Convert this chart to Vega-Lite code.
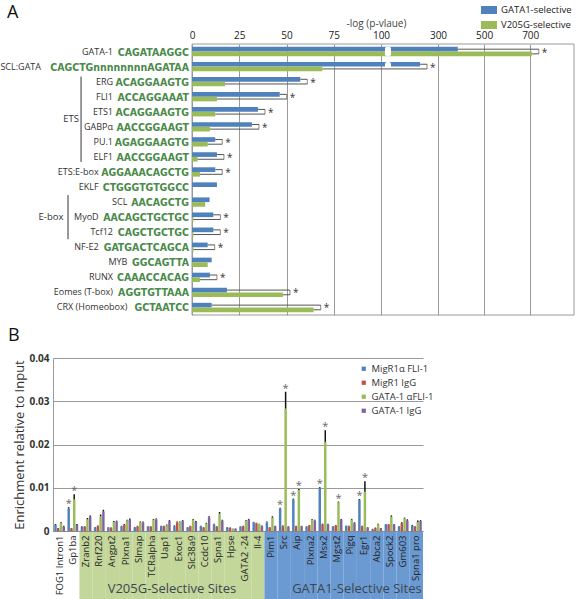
{
"$schema": "https://vega.github.io/schema/vega-lite/v6.json",
"padding": {"left": 0, "top": 2, "right": 0, "bottom": 0},
"config": {"font": "Open Sans", "view": {"stroke": null}, "title": {"fontWeight": "normal", "fontSize": 18, "color": "#111"}},
"spacing": 11,
"resolve": {"scale": {"color": "independent", "fill": "independent", "x": "independent", "y": "independent"}},
"datasets": {
 "aBars": [
  {"name":"GATA-1","sel":"GATA1-selective","value":386},{"name":"GATA-1","sel":"V205G-selective","value":707},
  {"name":"SCL:GATA","sel":"GATA1-selective","value":237},{"name":"SCL:GATA","sel":"V205G-selective","value":69},
  {"name":"ERG","sel":"GATA1-selective","value":57.3},{"name":"ERG","sel":"V205G-selective","value":17.5},
  {"name":"FLI1","sel":"GATA1-selective","value":46.4},{"name":"FLI1","sel":"V205G-selective","value":13.2},
  {"name":"ETS1","sel":"GATA1-selective","value":34.9},{"name":"ETS1","sel":"V205G-selective","value":12.3},
  {"name":"GABPα","sel":"GATA1-selective","value":31.7},{"name":"GABPα","sel":"V205G-selective","value":9.5},
  {"name":"PU.1","sel":"GATA1-selective","value":12.3},{"name":"PU.1","sel":"V205G-selective","value":8.3},
  {"name":"ELF1","sel":"GATA1-selective","value":13.2},{"name":"ELF1","sel":"V205G-selective","value":3},
  {"name":"ETS:E-box","sel":"GATA1-selective","value":12.3},{"name":"ETS:E-box","sel":"V205G-selective","value":4.2},
  {"name":"EKLF","sel":"GATA1-selective","value":13.2},{"name":"EKLF","sel":"V205G-selective","value":0},
  {"name":"SCL","sel":"GATA1-selective","value":9.3},{"name":"SCL","sel":"V205G-selective","value":7},
  {"name":"MyoD","sel":"GATA1-selective","value":11.3},{"name":"MyoD","sel":"V205G-selective","value":0.8},
  {"name":"Tcf12","sel":"GATA1-selective","value":11.3},{"name":"Tcf12","sel":"V205G-selective","value":0.8},
  {"name":"NF-E2","sel":"GATA1-selective","value":8.3},{"name":"NF-E2","sel":"V205G-selective","value":0.8},
  {"name":"MYB","sel":"GATA1-selective","value":10.4},{"name":"MYB","sel":"V205G-selective","value":8.3},
  {"name":"RUNX","sel":"GATA1-selective","value":9.5},{"name":"RUNX","sel":"V205G-selective","value":4.2},
  {"name":"Eomes (T-box)","sel":"GATA1-selective","value":18.5},{"name":"Eomes (T-box)","sel":"V205G-selective","value":48.1},
  {"name":"CRX (Homeobox)","sel":"GATA1-selective","value":10.4},{"name":"CRX (Homeobox)","sel":"V205G-selective","value":64.4}
 ],
 "motifs": [
  {"name":"GATA-1","motif":"CAGATAAGGC"},
  {"name":"SCL:GATA","motif":"CAGCTGnnnnnnnnAGATAA"},
  {"name":"ERG","motif":"ACAGGAAGTG"},
  {"name":"FLI1","motif":"ACCAGGAAAT"},
  {"name":"ETS1","motif":"ACAGGAAGTG"},
  {"name":"GABPα","motif":"AACCGGAAGT"},
  {"name":"PU.1","motif":"AGAGGAAGTG"},
  {"name":"ELF1","motif":"AACCGGAAGT"},
  {"name":"ETS:E-box","motif":"AGGAAACAGCTG"},
  {"name":"EKLF","motif":"CTGGGTGTGGCC"},
  {"name":"SCL","motif":"AACAGCTG"},
  {"name":"MyoD","motif":"AACAGCTGCTGC"},
  {"name":"Tcf12","motif":"CAGCTGCTGC"},
  {"name":"NF-E2","motif":"GATGACTCAGCA"},
  {"name":"MYB","motif":"GGCAGTTA"},
  {"name":"RUNX","motif":"CAAACCACAG"},
  {"name":"Eomes (T-box)","motif":"AGGTGTTAAA"},
  {"name":"CRX (Homeobox)","motif":"GCTAATCC"}
 ],
 "groups": [
  {"group":"ETS","first":"ERG","last":"ELF1","mid":"ETS1"},
  {"group":"E-box","first":"SCL","last":"Tcf12","mid":"MyoD"}
 ],
 "bBg": [
  {"gene":"Zranb2","grp":"V205G"},{"gene":"Rnf220","grp":"V205G"},{"gene":"Angpt2","grp":"V205G"},{"gene":"Plxna1","grp":"V205G"},
  {"gene":"Slmap","grp":"V205G"},{"gene":"TCRalpha","grp":"V205G"},{"gene":"Uap1","grp":"V205G"},{"gene":"Exoc1","grp":"V205G"},
  {"gene":"Slc38a9","grp":"V205G"},{"gene":"Ccdc10","grp":"V205G"},{"gene":"Spna1","grp":"V205G"},{"gene":"Hpse","grp":"V205G"},
  {"gene":"GATA2 -24","grp":"V205G"},{"gene":"Il-4","grp":"V205G"},
  {"gene":"Pim1","grp":"GATA1"},{"gene":"Src","grp":"GATA1"},{"gene":"Aip","grp":"GATA1"},{"gene":"Plxna2","grp":"GATA1"},
  {"gene":"Msx2","grp":"GATA1"},{"gene":"Mgst2","grp":"GATA1"},{"gene":"Pigq","grp":"GATA1"},{"gene":"Egr1","grp":"GATA1"},
  {"gene":"Abca2","grp":"GATA1"},{"gene":"Spock2","grp":"GATA1"},{"gene":"Gm603","grp":"GATA1"},{"gene":"Spna1 pro","grp":"GATA1"}
 ],
 "bLabels": [
  {"label":"V205G-Selective Sites","at":"Uap1"},
  {"label":"GATA1-Selective Sites","at":"Pigq"}
 ],
 "bData": [
  {"gene":"FOG1 Intron1","series":"MigR1α FLI-1","value":0.0014,"hi":0.0016},{"gene":"FOG1 Intron1","series":"MigR1 IgG","value":0.0006,"hi":0.0007},{"gene":"FOG1 Intron1","series":"GATA-1 αFLI-1","value":0.0019,"hi":0.0021},{"gene":"FOG1 Intron1","series":"GATA-1 IgG","value":0.0010,"hi":0.0012},
  {"gene":"Gp1ba","series":"MigR1α FLI-1","value":0.0052,"hi":0.0055,"sig":true},{"gene":"Gp1ba","series":"MigR1 IgG","value":0.0006,"hi":0.0007},{"gene":"Gp1ba","series":"GATA-1 αFLI-1","value":0.0073,"hi":0.0085,"sig":true},{"gene":"Gp1ba","series":"GATA-1 IgG","value":0.0014,"hi":0.0016},
  {"gene":"Zranb2","series":"MigR1α FLI-1","value":0.0010,"hi":0.0011},{"gene":"Zranb2","series":"MigR1 IgG","value":0.0010,"hi":0.0011},{"gene":"Zranb2","series":"GATA-1 αFLI-1","value":0.0027,"hi":0.0030},{"gene":"Zranb2","series":"GATA-1 IgG","value":0.0033,"hi":0.0036},
  {"gene":"Rnf220","series":"MigR1α FLI-1","value":0.0008,"hi":0.0009},{"gene":"Rnf220","series":"MigR1 IgG","value":0.0011,"hi":0.0013},{"gene":"Rnf220","series":"GATA-1 αFLI-1","value":0.0034,"hi":0.0038},{"gene":"Rnf220","series":"GATA-1 IgG","value":0.0045,"hi":0.0049},
  {"gene":"Angpt2","series":"MigR1α FLI-1","value":0.0008,"hi":0.0009},{"gene":"Angpt2","series":"MigR1 IgG","value":0.0007,"hi":0.0008},{"gene":"Angpt2","series":"GATA-1 αFLI-1","value":0.0021,"hi":0.0023},{"gene":"Angpt2","series":"GATA-1 IgG","value":0.0022,"hi":0.0024},
  {"gene":"Plxna1","series":"MigR1α FLI-1","value":0.0011,"hi":0.0012},{"gene":"Plxna1","series":"MigR1 IgG","value":0.0014,"hi":0.0016},{"gene":"Plxna1","series":"GATA-1 αFLI-1","value":0.0024,"hi":0.0026},{"gene":"Plxna1","series":"GATA-1 IgG","value":0.0026,"hi":0.0029},
  {"gene":"Slmap","series":"MigR1α FLI-1","value":0.0008,"hi":0.0009},{"gene":"Slmap","series":"MigR1 IgG","value":0.0011,"hi":0.0012},{"gene":"Slmap","series":"GATA-1 αFLI-1","value":0.0020,"hi":0.0022},{"gene":"Slmap","series":"GATA-1 IgG","value":0.0020,"hi":0.0022},
  {"gene":"TCRalpha","series":"MigR1α FLI-1","value":0.0010,"hi":0.0011},{"gene":"TCRalpha","series":"MigR1 IgG","value":0.0010,"hi":0.0011},{"gene":"TCRalpha","series":"GATA-1 αFLI-1","value":0.0026,"hi":0.0028},{"gene":"TCRalpha","series":"GATA-1 IgG","value":0.0027,"hi":0.0029},
  {"gene":"Uap1","series":"MigR1α FLI-1","value":0.0011,"hi":0.0012},{"gene":"Uap1","series":"MigR1 IgG","value":0.0011,"hi":0.0012},{"gene":"Uap1","series":"GATA-1 αFLI-1","value":0.0013,"hi":0.0015},{"gene":"Uap1","series":"GATA-1 IgG","value":0.0023,"hi":0.0025},
  {"gene":"Exoc1","series":"MigR1α FLI-1","value":0.0011,"hi":0.0013},{"gene":"Exoc1","series":"MigR1 IgG","value":0.0020,"hi":0.0022},{"gene":"Exoc1","series":"GATA-1 αFLI-1","value":0.0020,"hi":0.0022},{"gene":"Exoc1","series":"GATA-1 IgG","value":0.0023,"hi":0.0025},
  {"gene":"Slc38a9","series":"MigR1α FLI-1","value":0.0008,"hi":0.0009},{"gene":"Slc38a9","series":"MigR1 IgG","value":0.0011,"hi":0.0012},{"gene":"Slc38a9","series":"GATA-1 αFLI-1","value":0.0026,"hi":0.0028},{"gene":"Slc38a9","series":"GATA-1 IgG","value":0.0021,"hi":0.0023},
  {"gene":"Ccdc10","series":"MigR1α FLI-1","value":0.0011,"hi":0.0012},{"gene":"Ccdc10","series":"MigR1 IgG","value":0.0008,"hi":0.0009},{"gene":"Ccdc10","series":"GATA-1 αFLI-1","value":0.0017,"hi":0.0019},{"gene":"Ccdc10","series":"GATA-1 IgG","value":0.0031,"hi":0.0034},
  {"gene":"Spna1","series":"MigR1α FLI-1","value":0.0015,"hi":0.0017},{"gene":"Spna1","series":"MigR1 IgG","value":0.0010,"hi":0.0011},{"gene":"Spna1","series":"GATA-1 αFLI-1","value":0.0040,"hi":0.0044},{"gene":"Spna1","series":"GATA-1 IgG","value":0.0024,"hi":0.0026},
  {"gene":"Hpse","series":"MigR1α FLI-1","value":0.0008,"hi":0.0009},{"gene":"Hpse","series":"MigR1 IgG","value":0.0007,"hi":0.0008},{"gene":"Hpse","series":"GATA-1 αFLI-1","value":0.0005,"hi":0.0006},{"gene":"Hpse","series":"GATA-1 IgG","value":0.0005,"hi":0.0006},
  {"gene":"GATA2 -24","series":"MigR1α FLI-1","value":0.0010,"hi":0.0011},{"gene":"GATA2 -24","series":"MigR1 IgG","value":0.0011,"hi":0.0012},{"gene":"GATA2 -24","series":"GATA-1 αFLI-1","value":0.0023,"hi":0.0025},{"gene":"GATA2 -24","series":"GATA-1 IgG","value":0.0026,"hi":0.0028},
  {"gene":"Il-4","series":"MigR1α FLI-1","value":0.0020,"hi":0.0021},{"gene":"Il-4","series":"MigR1 IgG","value":0.0018,"hi":0.0019},{"gene":"Il-4","series":"GATA-1 αFLI-1","value":0.0016,"hi":0.0017},{"gene":"Il-4","series":"GATA-1 IgG","value":0.0011,"hi":0.0013},
  {"gene":"Pim1","series":"MigR1α FLI-1","value":0.0020,"hi":0.0022},{"gene":"Pim1","series":"MigR1 IgG","value":0.0008,"hi":0.0009},{"gene":"Pim1","series":"GATA-1 αFLI-1","value":0.0031,"hi":0.0034},{"gene":"Pim1","series":"GATA-1 IgG","value":0.0011,"hi":0.0012},
  {"gene":"Src","series":"MigR1α FLI-1","value":0.0052,"hi":0.0054,"sig":true},{"gene":"Src","series":"MigR1 IgG","value":0.0011,"hi":0.0013},{"gene":"Src","series":"GATA-1 αFLI-1","value":0.0283,"hi":0.0322,"sig":true},{"gene":"Src","series":"GATA-1 IgG","value":0.0010,"hi":0.0011},
  {"gene":"Aip","series":"MigR1α FLI-1","value":0.0073,"hi":0.0075,"sig":true},{"gene":"Aip","series":"MigR1 IgG","value":0.0011,"hi":0.0012},{"gene":"Aip","series":"GATA-1 αFLI-1","value":0.0095,"hi":0.0097,"sig":true},{"gene":"Aip","series":"GATA-1 IgG","value":0.0011,"hi":0.0012},
  {"gene":"Plxna2","series":"MigR1α FLI-1","value":0.0010,"hi":0.0011},{"gene":"Plxna2","series":"MigR1 IgG","value":0.0013,"hi":0.0014},{"gene":"Plxna2","series":"GATA-1 αFLI-1","value":0.0026,"hi":0.0028},{"gene":"Plxna2","series":"GATA-1 IgG","value":0.0024,"hi":0.0026},
  {"gene":"Msx2","series":"MigR1α FLI-1","value":0.0100,"hi":0.0102,"sig":true},{"gene":"Msx2","series":"MigR1 IgG","value":0.0015,"hi":0.0017},{"gene":"Msx2","series":"GATA-1 αFLI-1","value":0.0206,"hi":0.0233,"sig":true},{"gene":"Msx2","series":"GATA-1 IgG","value":0.0015,"hi":0.0017},
  {"gene":"Mgst2","series":"MigR1α FLI-1","value":0.0010,"hi":0.0011},{"gene":"Mgst2","series":"MigR1 IgG","value":0.0013,"hi":0.0014},{"gene":"Mgst2","series":"GATA-1 αFLI-1","value":0.0066,"hi":0.0068,"sig":true},{"gene":"Mgst2","series":"GATA-1 IgG","value":0.0026,"hi":0.0028},
  {"gene":"Pigq","series":"MigR1α FLI-1","value":0.0012,"hi":0.0013},{"gene":"Pigq","series":"MigR1 IgG","value":0.0011,"hi":0.0012},{"gene":"Pigq","series":"GATA-1 αFLI-1","value":0.0026,"hi":0.0028},{"gene":"Pigq","series":"GATA-1 IgG","value":0.0018,"hi":0.0020},
  {"gene":"Egr1","series":"MigR1α FLI-1","value":0.0072,"hi":0.0074,"sig":true},{"gene":"Egr1","series":"MigR1 IgG","value":0.0011,"hi":0.0012},{"gene":"Egr1","series":"GATA-1 αFLI-1","value":0.0091,"hi":0.0115,"sig":true},{"gene":"Egr1","series":"GATA-1 IgG","value":0.0008,"hi":0.0009},
  {"gene":"Abca2","series":"MigR1α FLI-1","value":0.0004,"hi":0.0005},{"gene":"Abca2","series":"MigR1 IgG","value":0.0007,"hi":0.0008},{"gene":"Abca2","series":"GATA-1 αFLI-1","value":0.0015,"hi":0.0017},{"gene":"Abca2","series":"GATA-1 IgG","value":0.0006,"hi":0.0007},
  {"gene":"Spock2","series":"MigR1α FLI-1","value":0.0015,"hi":0.0016},{"gene":"Spock2","series":"MigR1 IgG","value":0.0015,"hi":0.0016},{"gene":"Spock2","series":"GATA-1 αFLI-1","value":0.0033,"hi":0.0036},{"gene":"Spock2","series":"GATA-1 IgG","value":0.0015,"hi":0.0016},
  {"gene":"Gm603","series":"MigR1α FLI-1","value":0.0010,"hi":0.0011},{"gene":"Gm603","series":"MigR1 IgG","value":0.0018,"hi":0.0020},{"gene":"Gm603","series":"GATA-1 αFLI-1","value":0.0029,"hi":0.0031},{"gene":"Gm603","series":"GATA-1 IgG","value":0.0024,"hi":0.0027},
  {"gene":"Spna1 pro","series":"MigR1α FLI-1","value":0.0012,"hi":0.0014},{"gene":"Spna1 pro","series":"MigR1 IgG","value":0.0010,"hi":0.0011},{"gene":"Spna1 pro","series":"GATA-1 αFLI-1","value":0.0021,"hi":0.0024},{"gene":"Spna1 pro","series":"GATA-1 IgG","value":0.0023,"hi":0.0025}
 ]
},
"vconcat": [
 {
  "width": 521, "height": 271,
  "title": {"text": "A", "anchor": "start", "frame": "group", "dx": -46, "offset": -20},
  "layer": [
   {
    "data": {"values": [{}]},
    "mark": {"type": "rect", "filled": false, "stroke": "#9a9a9a", "strokeWidth": 1},
    "encoding": {"x": {"datum": 0}, "x2": {"datum": 890}}
   },
   {
    "data": {"name": "aBars"},
    "mark": {"type": "bar"},
    "encoding": {
     "y": {"field": "name", "type": "nominal", "scale": {"domain": ["GATA-1","SCL:GATA","ERG","FLI1","ETS1","GABPα","PU.1","ELF1","ETS:E-box","EKLF","SCL","MyoD","Tcf12","NF-E2","MYB","RUNX","Eomes (T-box)","CRX (Homeobox)"], "paddingInner": 0.38, "paddingOuter": 0.19}, "axis": null},
     "yOffset": {"field": "sel", "type": "nominal", "scale": {"domain": ["GATA1-selective","V205G-selective"], "paddingInner": 0}},
     "x": {"field": "value", "type": "quantitative",
       "scale": {"domain": [0,100,300,890], "range": [139,328,385,521], "nice": false, "zero": false},
       "axis": {"orient": "top", "values": [0,25,50,75,100,300,500,700], "grid": true, "gridColor": "#9a9a9a", "domain": false, "ticks": false, "labelFontSize": 10, "labelColor": "#222", "labelPadding": 4, "labelOverlap": false, "labelFlush": false, "title": "-log (p-vlaue)", "titleFontSize": 10, "titleFontWeight": "normal", "titleColor": "#444", "titleX": 323, "titleY": -21, "titleAlign": "center", "titleBaseline": "middle"}},
     "color": {"field": "sel", "type": "nominal",
       "scale": {"domain": ["GATA1-selective","V205G-selective"], "range": ["#4f81bd","#9bbb59"]},
       "legend": {"orient": "none", "legendX": 428, "legendY": -42, "title": null, "symbolType": "M-1,-0.5H1V0.5H-1Z", "symbolSize": 256, "symbolStrokeWidth": 0, "labelFontSize": 9.5, "labelColor": "#222", "rowPadding": 2, "labelOffset": 4, "labelLimit": 0}}
    }
   },
   {
    "data": {"name": "aBars"},
    "transform": [{"filter": {"field": "name", "oneOf": ["GATA-1","SCL:GATA"]}}, {"filter": {"field": "sel", "equal": "GATA1-selective"}}],
    "mark": {"type": "bar", "color": "white", "cornerRadius": 2},
    "encoding": {"y": {"field": "name", "type": "nominal"}, "x": {"datum": 114}, "x2": {"datum": 135}}
   },
   {
    "data": {"name": "aBars"},
    "transform": [
     {"joinaggregate": [{"op": "max", "field": "value", "as": "top"}], "groupby": ["name"]},
     {"filter": {"not": {"field": "name", "oneOf": ["EKLF","SCL","MYB"]}}}
    ],
    "mark": {"type": "rule", "color": "#555", "strokeWidth": 1, "x2Offset": 7},
    "encoding": {"y": {"field": "name", "type": "nominal"}, "yOffset": {"field": "sel", "type": "nominal"}, "x": {"field": "value", "type": "quantitative"}, "x2": {"field": "top"}}
   },
   {
    "data": {"name": "aBars"},
    "transform": [
     {"aggregate": [{"op": "max", "field": "value", "as": "top"}], "groupby": ["name"]},
     {"filter": {"not": {"field": "name", "oneOf": ["EKLF","SCL","MYB"]}}}
    ],
    "mark": {"type": "tick", "orient": "vertical", "color": "#555", "thickness": 1, "size": 5, "xOffset": 7},
    "encoding": {"y": {"field": "name", "type": "nominal"}, "x": {"field": "top", "type": "quantitative"}}
   },
   {
    "data": {"name": "aBars"},
    "transform": [
     {"aggregate": [{"op": "max", "field": "value", "as": "top"}], "groupby": ["name"]},
     {"filter": {"not": {"field": "name", "oneOf": ["EKLF","SCL","MYB"]}}}
    ],
    "mark": {"type": "text", "text": "*", "fontSize": 10, "color": "#333", "align": "left", "baseline": "middle", "dx": 10, "dy": 1},
    "encoding": {"y": {"field": "name", "type": "nominal"}, "x": {"field": "top", "type": "quantitative"}}
   },
   {
    "data": {"name": "motifs"},
    "mark": {"type": "text", "align": "right", "baseline": "middle", "dx": -3, "dy": 1, "font": "DejaVu Sans Condensed", "fontWeight": "bold", "fontSize": 10.5, "color": "#4a8a4a"},
    "encoding": {"y": {"field": "name", "type": "nominal"}, "x": {"datum": 0}, "text": {"field": "motif"}}
   },
   {
    "data": {"name": "motifs"},
    "mark": {"type": "text", "align": "right", "baseline": "middle", "dx": {"expr": "-7 - length(datum.motif) * 7.2"}, "fontSize": 9, "color": "#333"},
    "encoding": {"y": {"field": "name", "type": "nominal"}, "x": {"datum": 0}, "text": {"field": "name"}}
   },
   {
    "data": {"name": "groups"},
    "transform": [{"filter": {"field": "group", "equal": "ETS"}}],
    "mark": {"type": "text", "align": "center", "baseline": "middle", "dy": 7, "fontSize": 9.5, "color": "#333"},
    "encoding": {"y": {"field": "mid", "type": "nominal"}, "x": {"datum": -64}, "text": {"field": "group"}}
   },
   {
    "data": {"name": "groups"},
    "transform": [{"filter": {"field": "group", "equal": "E-box"}}],
    "mark": {"type": "text", "align": "center", "baseline": "middle", "fontSize": 9.5, "color": "#333"},
    "encoding": {"y": {"field": "mid", "type": "nominal"}, "x": {"datum": -74.6}, "text": {"field": "group"}}
   },
   {
    "data": {"name": "groups"},
    "transform": [{"filter": {"field": "group", "equal": "ETS"}}],
    "mark": {"type": "rule", "color": "#333", "strokeWidth": 1, "yOffset": -5, "y2Offset": 5},
    "encoding": {"y": {"field": "first", "type": "nominal"}, "y2": {"field": "last"}, "x": {"datum": -58.7}}
   },
   {
    "data": {"name": "groups"},
    "transform": [{"filter": {"field": "group", "equal": "E-box"}}],
    "mark": {"type": "rule", "color": "#333", "strokeWidth": 1, "yOffset": -7, "y2Offset": 7},
    "encoding": {"y": {"field": "first", "type": "nominal"}, "y2": {"field": "last"}, "x": {"datum": -65.6}}
   }
  ]
 },
 {
  "width": 370, "height": 173,
  "title": {"text": "B", "anchor": "start", "frame": "group", "dx": -45, "offset": 8},
  "layer": [
   {
    "data": {"name": "bBg"},
    "mark": {"type": "rect"},
    "encoding": {
     "x": {"field": "gene", "type": "nominal"},
     "y": {"datum": 0},
     "y2": {"datum": -0.0165},
     "fill": {"field": "grp", "type": "nominal", "scale": {"domain": ["V205G","GATA1"], "range": ["#c4d79b","#6b9ad2"]}, "legend": null}
    }
   },
   {
    "data": {"name": "bLabels"},
    "mark": {"type": "text", "fontSize": 13, "color": "#3c4650", "align": "center", "baseline": "middle"},
    "encoding": {"x": {"field": "at", "type": "nominal", "bandPosition": 1}, "y": {"datum": -0.0135}, "text": {"field": "label"}}
   },
   {
    "data": {"name": "bData"},
    "mark": {"type": "bar"},
    "encoding": {
     "x": {"field": "gene", "type": "nominal",
       "scale": {"domain": ["FOG1 Intron1","Gp1ba","Zranb2","Rnf220","Angpt2","Plxna1","Slmap","TCRalpha","Uap1","Exoc1","Slc38a9","Ccdc10","Spna1","Hpse","GATA2 -24","Il-4","Pim1","Src","Aip","Plxna2","Msx2","Mgst2","Pigq","Egr1","Abca2","Spock2","Gm603","Spna1 pro"], "paddingInner": 0, "paddingOuter": 0},
       "axis": {"title": null, "labelAngle": 270, "labelFontSize": 9.5, "labelColor": "#222", "ticks": false, "domainColor": "#888", "labelPadding": 4, "zindex": 1, "labelOverlap": false, "labelLimit": 0}},
     "xOffset": {"field": "series", "type": "nominal", "scale": {"domain": ["MigR1α FLI-1","MigR1 IgG","GATA-1 αFLI-1","GATA-1 IgG"], "paddingInner": 0.1, "paddingOuter": 0.45}},
     "y": {"field": "value", "type": "quantitative",
       "scale": {"domain": [0, 0.04], "nice": false, "zero": false},
       "axis": {"values": [0,0.01,0.02,0.03,0.04], "format": "~g", "grid": true, "gridColor": "#9a9a9a", "domainColor": "#9a9a9a", "ticks": false, "labelFontSize": 10, "labelFontWeight": "bold", "labelColor": "#333", "labelPadding": 4, "title": "Enrichment relative to Input", "titleFontSize": 13, "titleFontWeight": "normal", "titleColor": "#333", "titlePadding": 2}},
     "color": {"field": "series", "type": "nominal",
       "scale": {"domain": ["MigR1α FLI-1","MigR1 IgG","GATA-1 αFLI-1","GATA-1 IgG"], "range": ["#4f81bd","#c0504d","#9bbb59","#8064a2"]},
       "legend": {"orient": "none", "legendX": 306, "legendY": 6, "title": null, "symbolType": "square", "symbolSize": 18, "symbolStrokeWidth": 0, "labelFontSize": 9.5, "labelColor": "#333", "rowPadding": 3, "labelOffset": 3}}
    }
   },
   {
    "data": {"name": "bData"},
    "mark": {"type": "rule", "color": "#111", "strokeWidth": 1.5},
    "encoding": {"x": {"field": "gene", "type": "nominal"}, "xOffset": {"field": "series", "type": "nominal"}, "y": {"field": "value", "type": "quantitative"}, "y2": {"field": "hi"}}
   },
   {
    "data": {"name": "bData"},
    "transform": [{"filter": "datum.sig === true"}],
    "mark": {"type": "text", "text": "*", "fontSize": 11, "color": "#666", "baseline": "bottom", "dy": 2},
    "encoding": {"x": {"field": "gene", "type": "nominal"}, "xOffset": {"field": "series", "type": "nominal"}, "y": {"field": "hi", "type": "quantitative"}}
   }
  ]
 }
]
}
